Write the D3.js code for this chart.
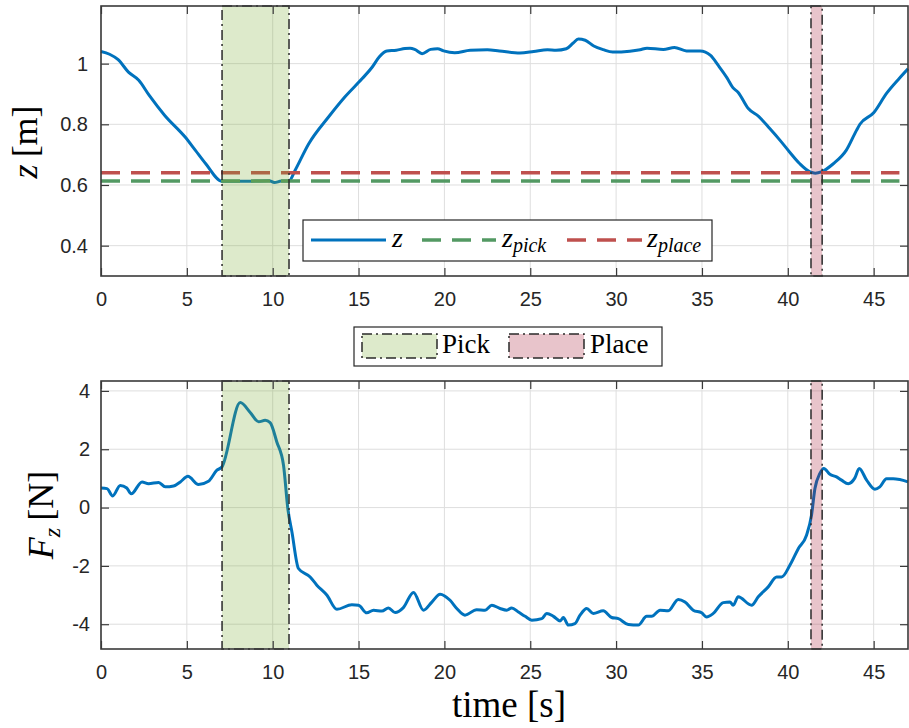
<!DOCTYPE html>
<html>
<head>
<meta charset="utf-8">
<script src="https://cdn.jsdelivr.net/npm/d3@7"></script>
<style>
  html, body { margin: 0; padding: 0; background: #ffffff; }
  svg { display: block; }
</style>
</head>
<body>
<svg id="chart" width="909" height="728"></svg>
<script>
// ---------- data ----------
const zTime = [0, 0.5, 1.0, 1.6, 2.2, 2.8, 3.7, 4.9, 5.5, 6.1, 7.05, 8.0, 9.0, 9.8, 10.1, 10.5, 10.95, 11.3, 12.1, 13.25, 14.2, 15.2, 15.8, 16.2, 16.65, 17.2, 17.7, 18.0, 18.3, 18.7, 19.2, 19.6, 19.95, 20.6, 21.5, 22.5, 23.2, 24.4, 25.2, 26.0, 26.5, 27.1, 27.5, 27.8, 28.2, 28.7, 29.25, 29.8, 30.8, 31.4, 31.8, 32.75, 33.4, 34.1, 34.9, 35.5, 35.95, 36.45, 36.8, 37.1, 37.7, 38.3, 38.95, 39.55, 40.1, 40.7, 41.3, 41.6, 41.95, 42.65, 43.4, 44.0, 44.2, 45.0, 45.75, 46.5, 47.0];
const zValue = [1.04, 1.031, 1.013, 0.972, 0.945, 0.896, 0.83, 0.758, 0.714, 0.67, 0.612, 0.612, 0.613, 0.614, 0.608, 0.613, 0.613, 0.648, 0.736, 0.824, 0.89, 0.95, 0.989, 1.022, 1.042, 1.044, 1.05, 1.051, 1.046, 1.033, 1.047, 1.049, 1.042, 1.036, 1.044, 1.046, 1.042, 1.035, 1.04, 1.046, 1.044, 1.049, 1.068, 1.081, 1.077, 1.058, 1.046, 1.038, 1.041, 1.046, 1.051, 1.047, 1.053, 1.042, 1.042, 1.027, 0.994, 0.954, 0.921, 0.906, 0.852, 0.826, 0.786, 0.747, 0.709, 0.67, 0.643, 0.639, 0.643, 0.67, 0.714, 0.78, 0.80, 0.838, 0.902, 0.952, 0.983];

const zPick = 0.613;
const zPlace = 0.640;
const refLineEnd = 46.5;

const fTime = [0, 0.35, 0.68, 1.12, 1.5, 1.76, 2.39, 2.77, 3.36, 3.74, 4.23, 4.62, 5.06, 5.68, 6.26, 6.75, 7.04, 8.11, 8.69, 9.18, 9.56, 9.85, 10.24, 10.63, 10.88, 11.12, 11.5, 12.18, 12.57, 13.15, 13.74, 14.61, 15.0, 15.48, 15.87, 16.36, 16.74, 17.13, 17.61, 18.2, 18.78, 19.27, 19.75, 20.33, 20.72, 21.2, 21.88, 22.37, 22.76, 23.24, 23.63, 23.92, 24.31, 24.7, 25.09, 25.67, 25.96, 26.35, 26.74, 26.93, 27.22, 27.6, 27.9, 28.29, 28.67, 29.25, 29.74, 30.13, 30.71, 31.29, 31.78, 32.07, 32.56, 33.04, 33.62, 34.01, 34.49, 34.98, 35.27, 35.66, 36.24, 36.63, 36.82, 37.11, 37.89, 38.28, 38.86, 39.35, 39.64, 40.12, 40.61, 41.09, 41.38, 41.58, 41.87, 42.1, 42.45, 42.84, 43.13, 43.52, 43.9, 44.16, 44.59, 45.07, 45.36, 45.75, 46.14, 46.52, 47.0];
const fValue = [0.67, 0.65, 0.40, 0.76, 0.67, 0.47, 0.88, 0.82, 0.86, 0.71, 0.74, 0.88, 1.07, 0.79, 0.90, 1.28, 1.39, 3.6, 3.26, 2.94, 2.99, 2.91, 2.25, 1.45, -0.03, -0.84, -2.09, -2.38, -2.66, -3.0, -3.49, -3.33, -3.35, -3.61, -3.52, -3.55, -3.44, -3.6, -3.43, -2.91, -3.52, -3.24, -2.97, -3.18, -3.46, -3.69, -3.5, -3.52, -3.35, -3.46, -3.52, -3.44, -3.58, -3.73, -3.86, -3.81, -3.63, -3.73, -3.89, -3.77, -4.03, -3.98, -3.69, -3.46, -3.63, -3.54, -3.77, -3.81, -4.01, -4.03, -3.73, -3.73, -3.52, -3.54, -3.15, -3.24, -3.52, -3.61, -3.75, -3.63, -3.26, -3.24, -3.35, -3.06, -3.35, -3.06, -2.72, -2.38, -2.38, -1.98, -1.41, -0.95, -0.26, 0.65, 1.17, 1.34, 1.14, 1.05, 0.94, 0.82, 1.01, 1.34, 0.94, 0.63, 0.71, 0.99, 0.99, 0.96, 0.88];

const pickWindow = [7.05, 10.95];
const placeWindow = [41.35, 42.0];

const xTicks = [0, 5, 10, 15, 20, 25, 30, 35, 40, 45];
const zTicks = [0.4, 0.6, 0.8, 1.0];
const zTickLabels = ["0.4", "0.6", "0.8", "1"];
const fTicks = [-4, -2, 0, 2, 4];
const fTickLabels = ["-4", "-2", "0", "2", "4"];

// ---------- style ----------
const C = {
  blue: "#0072BD", green: "#539963", red: "#BF504E",
  pickFill: "rgb(119,172,48)", placeFill: "rgb(162,20,47)",
  axis: "#3a3a3a", grid: "#dedede", text: "#262626"
};
const serif = "'Liberation Serif', 'Times New Roman', serif";
const sans = "'Liberation Sans', Arial, Helvetica, sans-serif";

const svg = d3.select("#chart");
const x = d3.scaleLinear().domain([0, 47]).range([101, 908]);

const topPanel = { y: d3.scaleLinear().domain([0.3, 1.19]).range([276, 6]) };
const botPanel = { y: d3.scaleLinear().domain([-4.85, 4.34]).range([649, 381]) };

function drawGrid(p, yTicks) {
  const g = svg.append("g");
  const [y0, y1] = p.y.range();
  g.append("g").selectAll("line").data(xTicks).join("line")
    .attr("x1", d => x(d)).attr("x2", d => x(d))
    .attr("y1", y1).attr("y2", y0)
    .attr("stroke", C.grid).attr("stroke-width", 1);
  g.append("g").selectAll("line").data(yTicks).join("line")
    .attr("y1", d => p.y(d)).attr("y2", d => p.y(d))
    .attr("x1", x.range()[0]).attr("x2", x.range()[1])
    .attr("stroke", C.grid).attr("stroke-width", 1);
}

function drawFrame(p, yTicks, yLabels, labelRight) {
  const [y0, y1] = p.y.range();
  const g = svg.append("g");
  const tl = 8;
  const xb = d3.axisBottom(x).tickValues(xTicks).tickSize(-tl).tickPadding(tl + 8).tickFormat(d3.format("d"));
  const ga = g.append("g").attr("transform", `translate(0,${y0})`).call(xb);
  const xt = d3.axisTop(x).tickValues(xTicks).tickSize(-tl).tickFormat("");
  const gt = g.append("g").attr("transform", `translate(0,${y1})`).call(xt);
  const yl = d3.axisLeft(p.y).tickValues(yTicks).tickSize(-tl).tickPadding(tl + 4)
    .tickFormat((d, i) => yLabels[i]);
  const gl = g.append("g").attr("transform", `translate(${x.range()[0]},0)`).call(yl);
  const yr = d3.axisRight(p.y).tickValues(yTicks).tickSize(-tl).tickFormat("");
  const gr = g.append("g").attr("transform", `translate(${x.range()[1]},0)`).call(yr);
  [ga, gt, gl, gr].forEach(a => {
    a.select(".domain").remove();
    a.selectAll(".tick line").attr("stroke", C.axis).attr("stroke-width", 1.2);
    a.selectAll(".tick text").attr("fill", C.text).style("font-family", sans).style("font-size", "20px");
  });
  gl.selectAll(".tick text").attr("x", labelRight - x.range()[0]);
  g.append("rect").attr("x", x.range()[0]).attr("y", y1)
    .attr("width", x.range()[1] - x.range()[0]).attr("height", y0 - y1)
    .attr("fill", "none").attr("stroke", C.axis).attr("stroke-width", 1.6);
}

function drawWindows(p) {
  const [y0, y1] = p.y.range();
  const g = svg.append("g");
  [[pickWindow, C.pickFill], [placeWindow, C.placeFill]].forEach(([w, col]) => {
    g.append("rect").attr("x", x(w[0])).attr("y", y1)
      .attr("width", x(w[1]) - x(w[0])).attr("height", y0 - y1)
      .attr("fill", col).attr("fill-opacity", 0.25)
      .attr("stroke", "#2a2a2a").attr("stroke-width", 1.5)
      .attr("stroke-dasharray", "10,4,2,4");
  });
}

// ----- top panel -----
drawGrid(topPanel, zTicks);
const zData = zTime.map((t, i) => [t, zValue[i]]);
const lineTop = d3.line().x(d => x(d[0])).y(d => topPanel.y(d[1])).curve(d3.curveMonotoneX);
svg.append("path").datum(zData).attr("d", lineTop)
  .attr("fill", "none").attr("stroke", C.blue).attr("stroke-width", 3).attr("stroke-linejoin", "round");
[[zPick, C.green], [zPlace, C.red]].forEach(([v, col]) => {
  svg.append("line").attr("x1", x(0)).attr("x2", x(refLineEnd))
    .attr("y1", topPanel.y(v)).attr("y2", topPanel.y(v))
    .attr("stroke", col).attr("stroke-width", 3.5).attr("stroke-dasharray", "19,11");
});
drawWindows(topPanel);
drawFrame(topPanel, zTicks, zTickLabels, 88);

// ----- bottom panel -----
drawGrid(botPanel, fTicks);
const fData = fTime.map((t, i) => [t, fValue[i]]);
const lineBot = d3.line().x(d => x(d[0])).y(d => botPanel.y(d[1])).curve(d3.curveMonotoneX);
svg.append("path").datum(fData).attr("d", lineBot)
  .attr("fill", "none").attr("stroke", C.blue).attr("stroke-width", 3).attr("stroke-linejoin", "round");
drawWindows(botPanel);
drawFrame(botPanel, fTicks, fTickLabels, 90);

// ----- axis labels -----
const ylTop = svg.append("text").attr("transform", "translate(37,142) rotate(-90)")
  .attr("text-anchor", "middle").style("font-family", serif).style("font-size", "36px").attr("fill", "#000");
ylTop.append("tspan").style("font-style", "italic").text("z");
ylTop.append("tspan").text("\u2009[m]");

const ylBot = svg.append("text").attr("transform", "translate(53,515) rotate(-90)")
  .attr("text-anchor", "middle").style("font-family", serif).style("font-size", "36px").attr("fill", "#000");
ylBot.append("tspan").style("font-style", "italic").text("F");
ylBot.append("tspan").style("font-style", "italic").style("font-size", "24px").attr("dy", 7).text("z");
ylBot.append("tspan").attr("dy", -7).text("\u2009[N]");

svg.append("text").attr("x", 509).attr("y", 717).attr("text-anchor", "middle")
  .style("font-family", serif).style("font-size", "37px").attr("fill", "#000").text("time [s]");

// ----- top legend -----
const lg = svg.append("g");
lg.append("rect").attr("x", 303).attr("y", 220).attr("width", 409).attr("height", 41)
  .attr("fill", "#fff").attr("stroke", "#262626").attr("stroke-width", 1.2);
const legItems = [
  { x1: 311, x2: 386, col: C.blue, dash: null, tx: 392, main: "z", sub: null },
  { x1: 422, x2: 496, col: C.green, dash: "19,11", tx: 502, main: "z", sub: "pick" },
  { x1: 567, x2: 642, col: C.red, dash: "19,11", tx: 647, main: "z", sub: "place" }
];
legItems.forEach(it => {
  const l = lg.append("line").attr("x1", it.x1).attr("x2", it.x2).attr("y1", 240).attr("y2", 240)
    .attr("stroke", it.col).attr("stroke-width", it.dash ? 3.5 : 3);
  if (it.dash) l.attr("stroke-dasharray", it.dash);
  const t = lg.append("text").attr("x", it.tx).attr("y", 246.5)
    .style("font-family", serif).style("font-style", "italic").style("font-size", "28px").attr("fill", "#000");
  t.append("tspan").text(it.main);
  if (it.sub) t.append("tspan").attr("dy", 5).style("font-size", "20px").text(it.sub);
});

// ----- window legend -----
const wl = svg.append("g");
wl.append("rect").attr("x", 354).attr("y", 327).attr("width", 308).attr("height", 39)
  .attr("fill", "#fff").attr("stroke", "#262626").attr("stroke-width", 1.2);
[[362, C.pickFill, 442, "Pick"], [509, C.placeFill, 590, "Place"]].forEach(([px, col, tx, label]) => {
  wl.append("rect").attr("x", px).attr("y", 334).attr("width", 75).attr("height", 24)
    .attr("fill", col).attr("fill-opacity", 0.25)
    .attr("stroke", "#2a2a2a").attr("stroke-width", 1.5).attr("stroke-dasharray", "10,4,2,4");
  wl.append("text").attr("x", tx).attr("y", 353).style("font-family", serif)
    .style("font-size", "27px").attr("fill", "#000").text(label);
});
</script>
</body>
</html>
